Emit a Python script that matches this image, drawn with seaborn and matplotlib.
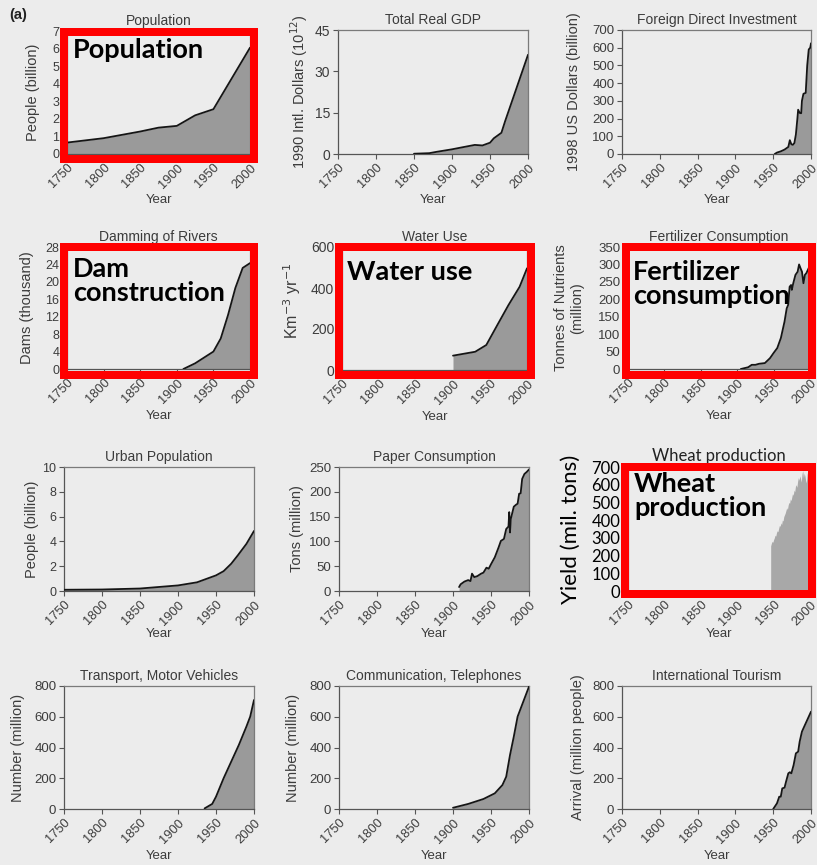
import numpy as np
import pandas as pd
import seaborn as sns
import matplotlib.pyplot as plt
from matplotlib.patches import Rectangle
from matplotlib.transforms import ScaledTranslation

W, H = 817, 865
BG = '#ececec'
FILL = '#9a9a9a'
TXT = '#3c3c3c'

# ---- data ----
pop_years = [1750, 1800, 1850, 1875, 1900, 1925, 1950, 1975, 2000]
pop_vals = [0.65, 0.9, 1.28, 1.5, 1.6, 2.2, 2.55, 4.3, 6.05]

gdp_years = [1850, 1870, 1880, 1900, 1913, 1930, 1940, 1950, 1955, 1965, 1970, 1980, 1990, 2000]
gdp_vals = [0.1, 0.3, 0.8, 1.7, 2.4, 3.3, 3.1, 4.1, 5.7, 7.7, 12, 20, 28, 36]

fdi_years = [1952, 1955, 1960, 1965, 1970, 1972, 1974, 1976, 1978, 1980, 1982, 1983,
             1985, 1987, 1988, 1990, 1993, 1995, 1997, 1999, 2000]
fdi_vals = [0, 8, 15, 25, 40, 78, 55, 52, 62, 110, 200, 250,
            232, 230, 300, 340, 345, 500, 590, 600, 625]

dam_years = [1909, 1925, 1950, 1960, 1970, 1980, 1990, 2000]
dam_vals = [0, 1.3, 4.0, 7.0, 12.4, 18.6, 23.2, 24.3]

water_years = [1900, 1930, 1945, 1960, 1975, 1990, 2000]
water_vals = [70, 89, 122, 220, 317, 406, 496]

fert_years = [1905, 1915, 1920, 1925, 1930, 1938, 1945, 1950, 1955, 1960, 1965, 1968, 1970,
              1972, 1974, 1975, 1977, 1980, 1983, 1985, 1987, 1989, 1991, 1993, 1995, 1997, 2000]
fert_vals = [0, 5, 12, 12, 15, 17, 31, 46, 60, 89, 136, 174, 184,
             236, 241, 227, 246, 270, 279, 300, 289, 279, 246, 270, 275, 284, 298]

urban_years = [1750, 1800, 1850, 1900, 1925, 1950, 1960, 1970, 1979, 1990, 2000]
urban_vals = [0.1, 0.12, 0.2, 0.45, 0.7, 1.26, 1.6, 2.2, 2.9, 3.8, 4.84]

paper_years = [1908, 1910, 1915, 1920, 1923, 1925, 1928, 1932, 1937, 1940, 1944, 1947, 1950,
               1955, 1960, 1963, 1967, 1970, 1973, 1974, 1975, 1976, 1980, 1983, 1985, 1987,
               1989, 1991, 1994, 1997, 2000]
paper_vals = [8, 13.5, 19, 22, 20, 35, 28, 30, 35, 37, 47, 45, 54,
              68, 88, 101, 105, 125, 130, 159, 118, 145, 170, 174, 176, 196,
              197, 226, 236, 240, 245]

wheat_years = list(range(1946, 2001))
wheat_vals = [255, 270, 280, 275, 290, 300, 315, 310, 330, 340, 335, 355, 370, 365,
              385, 375, 400, 395, 420, 430, 440, 455, 470, 460, 485, 500, 495, 520,
              510, 530, 550, 540, 570, 560, 590, 600, 585, 620, 640, 625, 650, 635,
              615, 660, 680, 640, 665, 650, 625, 610, 660, 675, 665, 670, 640]

car_years = [1935, 1945, 1950, 1960, 1970, 1980, 1990, 1995, 2000]
car_vals = [4, 33, 80, 200, 308, 416, 536, 601, 709]

tel_years = [1900, 1920, 1940, 1955, 1965, 1970, 1975, 1980, 1985, 1990, 2000]
tel_vals = [8, 33, 65, 102, 156, 210, 351, 471, 601, 666, 796]

tour_years = [1950, 1955, 1958, 1960, 1962, 1965, 1967, 1970, 1972, 1974, 1977, 1980,
              1983, 1985, 1988, 1990, 1995, 2000]
tour_vals = [0, 37, 80, 80, 134, 139, 178, 232, 239, 232, 286, 362,
             373, 438, 503, 525, 579, 633]

year_ticks = [1750, 1800, 1850, 1900, 1950, 2000]

sns.set_theme(style='ticks')
plt.rcParams['font.family'] = ['Liberation Sans', 'DejaVu Sans']

fig = plt.figure(figsize=(W / 100, H / 100), dpi=100, facecolor=BG)
shift = ScaledTranslation(-3 / 100, 0, fig.dpi_scale_trans)


def px_axes(l, t, r, b):
    return fig.add_axes([l / W, 1 - b / H, (r - l) / W, (b - t) / H])


def panel(box, years, vals, title, ylabel, yticks, ylab_dx, xlab_dy,
          line=True, fill=FILL, tick_fs=9, ylab_fs=10.5, tick_color=TXT,
          font=None, title_fs=10, title_color=TXT, ylab_color=TXT, ylab_y=0.5):
    l, t, r, b = box
    ax = px_axes(l, t, r, b)
    ax.set_facecolor(BG)
    df = pd.DataFrame({'Year': years, 'v': vals})
    ax.fill_between(df['Year'], 0, df['v'], color=fill, lw=0, zorder=1)
    if line:
        sns.lineplot(data=df, x='Year', y='v', ax=ax, color='#151515', lw=1.3, zorder=3)
    ax.set_xlim(1750, 2000)
    ax.set_ylim(yticks[0], yticks[-1])
    ax.set_xticks(year_ticks)
    ax.set_yticks(yticks)
    ax.set_xticklabels([str(y) for y in year_ticks], rotation=45, ha='right',
                       rotation_mode='anchor', fontsize=9.3, color=TXT)
    for lab in ax.get_xticklabels():
        lab.set_transform(lab.get_transform() + shift)
    kw = {'fontsize': tick_fs, 'color': tick_color}
    if font:
        kw['family'] = font
    ax.set_yticklabels([str(y) for y in yticks], **kw)
    ax.tick_params(axis='both', direction='out', length=3.5, width=0.8,
                   color='#555555', pad=2)
    for s in ['left', 'bottom']:
        ax.spines[s].set_color('#555555')
        ax.spines[s].set_linewidth(0.9)
    for s in ['top', 'right']:
        ax.spines[s].set_color('#7a7a7a')
        ax.spines[s].set_linewidth(0.9)
    tkw = {'fontsize': title_fs, 'color': title_color}
    lkw = {'fontsize': ylab_fs, 'color': ylab_color}
    if font:
        tkw['family'] = font
        lkw['family'] = font
    ax.set_title(title, pad=4, **tkw)
    ax.set_ylabel(ylabel, **lkw)
    ax.set_xlabel('Year', fontsize=9.5, color=TXT)
    wpx, hpx = r - l, b - t
    ax.yaxis.set_label_coords(-ylab_dx / wpx, ylab_y)
    ax.xaxis.set_label_coords(0.5, -xlab_dy / hpx)
    return ax


panel((67, 31, 250, 154), pop_years, pop_vals, 'Population', 'People (billion)',
      list(range(0, 8)), 27, 40)
panel((338, 30, 528, 154), gdp_years, gdp_vals, 'Total Real GDP',
      '1990 Intl. Dollars (10$^{12}$)', [0, 15, 30, 45], 28, 40, tick_fs=10)
panel((622, 30, 811, 154), fdi_years, fdi_vals, 'Foreign Direct Investment',
      '1998 US Dollars (billion)', list(range(0, 800, 100)), 41, 40, tick_fs=9.5)

panel((67, 247, 250, 369), dam_years, dam_vals, 'Damming of Rivers', 'Dams (thousand)',
      list(range(0, 32, 4)), 33, 41)
panel((342, 247, 527, 370), water_years, water_vals, 'Water Use',
      'Km$^{-3}$ yr$^{-1}$', [0, 200, 400, 600], 39, 41, tick_fs=10, ylab_fs=11.5,
      ylab_y=0.56)
panel((628, 247, 810, 369), fert_years, fert_vals, 'Fertilizer Consumption',
      'Tonnes of Nutrients\n(million)', list(range(0, 400, 50)), 44, 41, tick_fs=9.5)

panel((64, 467, 254, 591), urban_years, urban_vals, 'Urban Population', 'People (billion)',
      list(range(0, 12, 2)), 25, 37)
panel((339, 467, 529, 591), paper_years, paper_vals, 'Paper Consumption', 'Tons (million)',
      list(range(0, 300, 50)), 35, 37, tick_fs=9.5)
panel((628, 467, 810, 591), wheat_years, wheat_vals, 'Wheat production',
      'Yield (mil. tons)', list(range(0, 800, 100)), 47, 37, line=False,
      fill='#a8a8a8', tick_fs=12, ylab_fs=16, tick_color='black',
      font=['Lato', 'DejaVu Sans'], title_fs=12, title_color='#222222',
      ylab_color='black')

panel((64, 686, 254, 809), car_years, car_vals, 'Transport, Motor Vehicles',
      'Number (million)', list(range(0, 1000, 200)), 39, 41, tick_fs=9.5)
panel((339, 686, 529, 809), tel_years, tel_vals, 'Communication, Telephones',
      'Number (million)', list(range(0, 1000, 200)), 39, 41, tick_fs=9.5)
panel((622, 686, 811, 809), tour_years, tour_vals, 'International Tourism',
      'Arrival (million people)', list(range(0, 1000, 200)), 37, 41, tick_fs=9.5)

fig.text(9 / W, 1 - 8 / H, '(a)', fontsize=10.5, fontweight='bold', color='#222222',
         ha='left', va='top')

# red highlight boxes with labels
boxes = [
    ((60, 28, 258, 163), 'Population', (73, 38)),
    ((60, 243, 258, 379), 'Dam\nconstruction', (73, 257)),
    ((335, 243, 535, 379), 'Water use', (347, 260)),
    ((622, 243, 816, 379), 'Fertilizer\nconsumption', (633, 260)),
    ((621, 463, 816, 598), 'Wheat\nproduction', (634, 472)),
]
for (l, t, r, b), label, (tx, ty) in boxes:
    lw_px = 8
    rect = Rectangle(((l + lw_px / 2) / W, 1 - (b - lw_px / 2) / H),
                     (r - l - lw_px) / W, (b - t - lw_px) / H,
                     transform=fig.transFigure, fill=False, edgecolor='#ff0000',
                     lw=lw_px * 0.72, zorder=10)
    fig.add_artist(rect)
    fig.text(tx / W, 1 - ty / H, label, fontsize=19.5, fontweight='bold',
             family=['Lato', 'DejaVu Sans'], color='black', ha='left', va='top',
             linespacing=0.98, zorder=11)

fig.savefig('out.png', dpi=100, facecolor=BG)
